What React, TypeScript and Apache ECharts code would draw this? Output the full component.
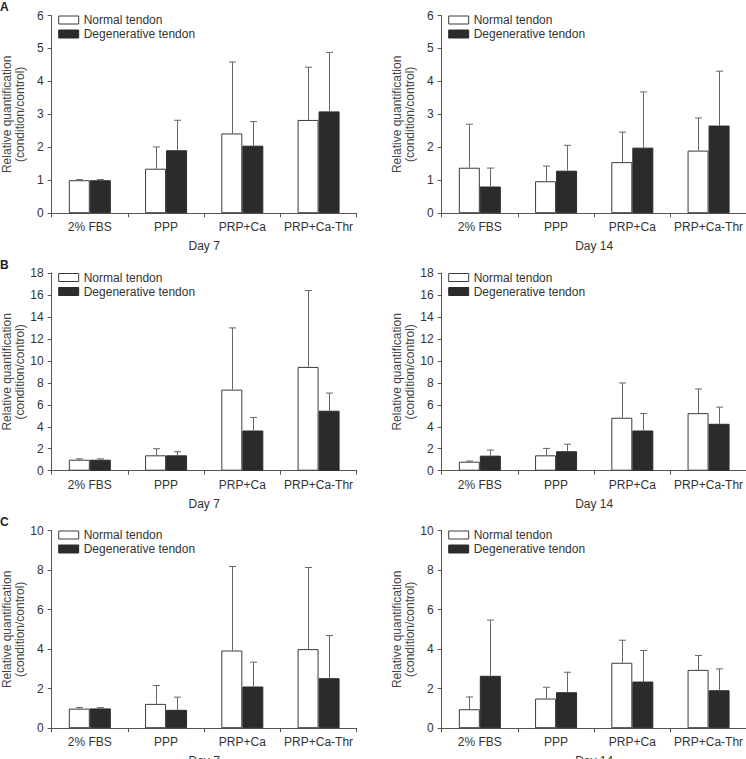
import React, { useEffect, useRef } from "react";
import * as echarts from "echarts";

const categories = ["2% FBS", "PPP", "PRP+Ca", "PRP+Ca-Thr"];
const seriesNames = ["Normal tendon", "Degenerative tendon"];
const dayNames = ["Day 7", "Day 14"];
const panelLetters = ["A", "B", "C"];
const yMaxByRow = [6, 18, 10];
const yIntervalByRow = [1, 2, 2];

// Panel A
const aDay7NormalMean = [1.0, 1.35, 2.42, 2.83];
const aDay7NormalSD = [0.02, 0.66, 2.17, 1.6];
const aDay7DegenMean = [1.0, 1.91, 2.05, 3.09];
const aDay7DegenSD = [0.02, 0.91, 0.73, 1.79];
const aDay14NormalMean = [1.38, 0.97, 1.55, 1.9];
const aDay14NormalSD = [1.32, 0.46, 0.91, 0.99];
const aDay14DegenMean = [0.81, 1.29, 1.99, 2.66];
const aDay14DegenSD = [0.56, 0.77, 1.69, 1.65];

// Panel B
const bDay7NormalMean = [1.0, 1.4, 7.38, 9.45];
const bDay7NormalSD = [0.08, 0.6, 5.62, 6.95];
const bDay7DegenMean = [1.0, 1.4, 3.66, 5.46];
const bDay7DegenSD = [0.08, 0.33, 1.19, 1.61];
const bDay14NormalMean = [0.82, 1.4, 4.82, 5.24];
const bDay14NormalSD = [0.06, 0.63, 3.17, 2.2];
const bDay14DegenMean = [1.37, 1.77, 3.66, 4.27];
const bDay14DegenSD = [0.51, 0.64, 1.55, 1.52];

// Panel C
const cDay7NormalMean = [0.99, 1.23, 3.93, 4.0];
const cDay7NormalSD = [0.05, 0.93, 4.25, 4.13];
const cDay7DegenMean = [1.0, 0.93, 2.11, 2.53];
const cDay7DegenSD = [0.04, 0.64, 1.23, 2.16];
const cDay14NormalMean = [0.96, 1.5, 3.31, 2.95];
const cDay14NormalSD = [0.62, 0.57, 1.14, 0.73];
const cDay14DegenMean = [2.65, 1.82, 2.36, 1.92];
const cDay14DegenSD = [2.82, 1.01, 1.57, 1.08];

const panelData = [
  [
    [aDay7NormalMean, aDay7NormalSD, aDay7DegenMean, aDay7DegenSD],
    [aDay14NormalMean, aDay14NormalSD, aDay14DegenMean, aDay14DegenSD],
  ],
  [
    [bDay7NormalMean, bDay7NormalSD, bDay7DegenMean, bDay7DegenSD],
    [bDay14NormalMean, bDay14NormalSD, bDay14DegenMean, bDay14DegenSD],
  ],
  [
    [cDay7NormalMean, cDay7NormalSD, cDay7DegenMean, cDay7DegenSD],
    [cDay14NormalMean, cDay14NormalSD, cDay14DegenMean, cDay14DegenSD],
  ],
];

const FONT = "'Liberation Sans', Arial, Helvetica, sans-serif";
const TEXT = "#333";
const AXIS = "#555";
const ERR = "#666";
const DARK = "#2b2b2b";

const gridLefts = [51.7, 441.7];
const gridTops = [15.5, 273, 530.5];
const gridWidth = 305;
const gridHeight = 197.7;
const barW = 21;

function makeErr(offset: number) {
  return (params: any, api: any) => {
    const i = api.value(0);
    const m = api.value(1);
    const t = api.value(2);
    const base = api.coord([i, m]);
    const top = api.coord([i, t]);
    const x = Math.round(base[0] + offset) + 0.5;
    return {
      type: "group",
      children: [
        {
          type: "line",
          shape: { x1: x, y1: base[1], x2: x, y2: top[1] },
          style: { stroke: ERR, lineWidth: 1 },
        },
        {
          type: "line",
          shape: { x1: x - 3.5, y1: top[1], x2: x + 3.5, y2: top[1] },
          style: { stroke: ERR, lineWidth: 1 },
        },
      ],
    };
  };
}

function buildOption() {
  const grid: any[] = [];
  const xAxis: any[] = [];
  const yAxis: any[] = [];
  const series: any[] = [];
  const legend: any[] = [];
  let k = 0;
  for (let r = 0; r < 3; r++) {
    for (let c = 0; c < 2; c++) {
      const [nMean, nSD, dMean, dSD] = panelData[r][c];
      grid.push({
        left: gridLefts[c],
        top: gridTops[r],
        width: gridWidth,
        height: gridHeight,
        containLabel: false,
        outerBoundsMode: "none",
      });
      xAxis.push({
        type: "category",
        gridIndex: k,
        data: categories,
        name: dayNames[c],
        nameLocation: "middle",
        nameGap: 27,
        nameMoveOverlap: false,
        nameTextStyle: { color: TEXT, fontSize: 12, fontFamily: FONT },
        axisLine: { show: true, lineStyle: { color: AXIS, width: 1 } },
        axisTick: { show: true, length: 4, lineStyle: { color: AXIS } },
        axisLabel: {
          color: TEXT,
          fontSize: 12,
          fontFamily: FONT,
          interval: 0,
          margin: 8,
        },
        splitLine: { show: false },
      });
      yAxis.push({
        type: "value",
        gridIndex: k,
        min: 0,
        max: yMaxByRow[r],
        interval: yIntervalByRow[r],
        name: "Relative quantification\n(condition/control)",
        nameLocation: "middle",
        nameRotate: 90,
        nameGap: 25,
        nameMoveOverlap: false,
        nameTextStyle: {
          color: "#444",
          fontSize: 12,
          fontFamily: FONT,
          lineHeight: 13,
          align: "center",
        },
        axisLine: { show: true, lineStyle: { color: AXIS, width: 1 } },
        axisTick: { show: true, length: 4, lineStyle: { color: AXIS } },
        axisLabel: { color: TEXT, fontSize: 12, fontFamily: FONT, margin: 8 },
        splitLine: { show: false },
      });
      series.push({
        type: "bar",
        name: seriesNames[0],
        xAxisIndex: k,
        yAxisIndex: k,
        data: nMean,
        barWidth: barW,
        barGap: "0%",
        itemStyle: { color: "#fff", borderColor: "#3a3a3a", borderWidth: 1 },
        z: 2,
      });
      series.push({
        type: "bar",
        name: seriesNames[1],
        xAxisIndex: k,
        yAxisIndex: k,
        data: dMean,
        barWidth: barW,
        barGap: "0%",
        itemStyle: { color: DARK, borderColor: DARK, borderWidth: 1 },
        z: 2,
      });
      series.push({
        type: "custom",
        name: "err-n-" + k,
        xAxisIndex: k,
        yAxisIndex: k,
        renderItem: makeErr(-barW / 2),
        encode: { x: 0, y: [1, 2] },
        data: categories.map((_, i) => [i, nMean[i], nMean[i] + nSD[i]]),
        z: 3,
        silent: true,
      });
      series.push({
        type: "custom",
        name: "err-d-" + k,
        xAxisIndex: k,
        yAxisIndex: k,
        renderItem: makeErr(barW / 2),
        encode: { x: 0, y: [1, 2] },
        data: categories.map((_, i) => [i, dMean[i], dMean[i] + dSD[i]]),
        z: 3,
        silent: true,
      });
      legend.push({
        orient: "vertical",
        left: gridLefts[c] + 6.5,
        top: gridTops[r] - 2.5,
        itemWidth: 20,
        itemHeight: 8,
        itemGap: 0,
        padding: 0,
        icon: "rect",
        selectedMode: false,
        textStyle: { color: TEXT, fontSize: 12, fontFamily: FONT, lineHeight: 14 },
        data: [
          {
            name: seriesNames[0],
            itemStyle: { color: "#fff", borderColor: "#3a3a3a", borderWidth: 1 },
          },
          {
            name: seriesNames[1],
            itemStyle: { color: DARK, borderColor: DARK, borderWidth: 1 },
          },
        ],
      });
      k++;
    }
  }
  const letterY = [7, 265, 522];
  const graphic = panelLetters.map((L, i) => ({
    type: "text",
    left: 0,
    top: letterY[i] - 6,
    style: {
      text: L,
      fill: "#222",
      font: `bold 12px ${FONT}`,
    },
  }));
  return {
    animation: false,
    backgroundColor: "#fff",
    grid,
    xAxis,
    yAxis,
    series,
    legend,
    graphic,
  };
}

export default function App() {
  const ref = useRef<HTMLDivElement>(null);
  useEffect(() => {
    if (!ref.current) return;
    const chart = echarts.init(ref.current, undefined, { renderer: "svg" });
    chart.setOption(buildOption() as any);
    return () => chart.dispose();
  }, []);
  return (
    <div
      ref={ref}
      style={{ position: "absolute", left: 0, top: 0, width: 746, height: 759 }}
    />
  );
}
